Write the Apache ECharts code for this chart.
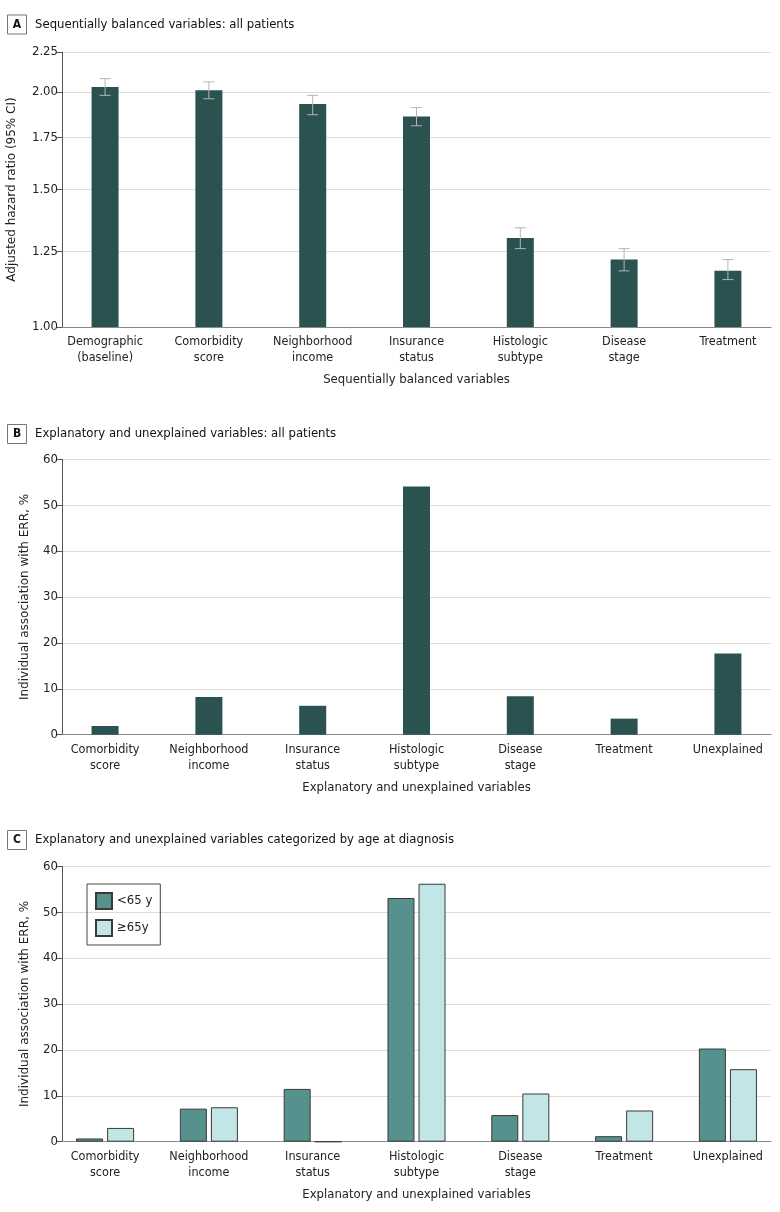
<!DOCTYPE html>
<html><head><meta charset="utf-8">
<script src="https://cdn.jsdelivr.net/npm/echarts@6/dist/echarts.min.js"></script>
<style>html,body{margin:0;padding:0;background:#fff}#c{width:780px;height:1212px}</style>
</head><body><div id="c"></div>
<script>
// ---- data ----
const catsA = ['Demographic\n(baseline)','Comorbidity\nscore','Neighborhood\nincome','Insurance\nstatus','Histologic\nsubtype','Disease\nstage','Treatment'];
const hrA = [2.03, 2.01, 1.93, 1.86, 1.30, 1.22, 1.18];
const hrLow = [1.98, 1.96, 1.87, 1.81, 1.26, 1.18, 1.15];
const hrHigh = [2.08, 2.06, 1.98, 1.91, 1.34, 1.26, 1.22];
const ticksA = [1.00, 1.25, 1.50, 1.75, 2.00, 2.25];
const catsBC = ['Comorbidity\nscore','Neighborhood\nincome','Insurance\nstatus','Histologic\nsubtype','Disease\nstage','Treatment','Unexplained'];
const errAll = [1.9, 8.2, 6.3, 54.1, 8.4, 3.5, 17.7];
const errUnder65 = [0.7, 7.2, 11.5, 53.1, 5.8, 1.2, 20.3];
const errOver65 = [3.0, 7.5, 0, 56.2, 10.5, 6.8, 15.8];
const ticksBC = [0, 10, 20, 30, 40, 50, 60];
const legendNames = ['<65 y', '≥65y'];

// ---- styles ----
const NARROW = "'Liberation Sans Narrow','DejaVu Sans Condensed',sans-serif";
const WIDE = "'DejaVu Sans',Verdana,sans-serif";
const TXT = '#222';

function xAx(gi, cats, name) {
  return {
    type: 'value', gridIndex: gi, min: -0.415, max: 6.415,
    name: name, nameLocation: 'middle', nameGap: 46,
    nameTextStyle: {fontFamily: NARROW, fontSize: 13, color: TXT},
    axisLine: {show: true, onZero: false, lineStyle: {color: '#8a8a8a', width: 1}},
    axisTick: {show: false}, splitLine: {show: false},
    axisLabel: {customValues: cats.map((c, i) => i), formatter: v => cats[Math.round(v)],
      fontFamily: NARROW, fontSize: 12.5, lineHeight: 16, color: TXT, margin: 7}
  };
}
function yAx(gi, extra) {
  return Object.assign({
    gridIndex: gi, nameLocation: 'middle',
    nameTextStyle: {fontFamily: WIDE, fontSize: 12, color: TXT},
    axisLine: {show: true, onZero: false, lineStyle: {color: '#555', width: 1}},
    axisTick: {show: true, length: 5, lineStyle: {color: '#555'}},
    splitLine: {show: true, lineStyle: {color: '#dcdcdc', width: 1}},
  }, extra);
}
function panelTitle(letter, text, yc) {
  return [
    {type: 'rect', shape: {x: 7.5, y: yc - 9.5, width: 19, height: 19}, style: {fill: '#fff', stroke: '#777', lineWidth: 1}},
    {type: 'text', x: 17, y: yc, style: {text: letter, font: "bold 12px " + NARROW, fill: '#111', align: 'center', verticalAlign: 'middle'}},
    {type: 'text', x: 35, y: yc, style: {text: text, font: "13px " + NARROW, fill: '#111', align: 'left', verticalAlign: 'middle'}}
  ];
}

const chart = echarts.init(document.getElementById('c'), null, {renderer: 'canvas'});
chart.setOption({
  animation: false,
  backgroundColor: '#fff',
  graphic: [].concat(
    panelTitle('A', 'Sequentially balanced variables: all patients', 24.5),
    panelTitle('B', 'Explanatory and unexplained variables: all patients', 434),
    panelTitle('C', 'Explanatory and unexplained variables categorized by age at diagnosis', 840)
  ),
  grid: [
    {left: 62, right: 9, top: 52, height: 275, outerBoundsMode: 'none'},
    {left: 62, right: 9, top: 459.3, height: 275.4, outerBoundsMode: 'none'},
    {left: 62, right: 9, top: 866.3, height: 275.4, outerBoundsMode: 'none'}
  ],
  xAxis: [
    xAx(0, catsA, 'Sequentially balanced variables'),
    xAx(1, catsBC, 'Explanatory and unexplained variables'),
    xAx(2, catsBC, 'Explanatory and unexplained variables')
  ],
  yAxis: [
    yAx(0, {type: 'log', logBase: 10, min: 1, max: 2.25, name: 'Adjusted hazard ratio (95% CI)', nameGap: 44,
      axisTick: {show: true, length: 5, customValues: ticksA, lineStyle: {color: '#555'}},
      axisLabel: {customValues: ticksA, formatter: v => v.toFixed(2), fontFamily: NARROW, fontSize: 13, color: TXT, margin: 4}}),
    yAx(1, {type: 'value', min: 0, max: 60, interval: 10, name: 'Individual association with ERR, %', nameGap: 31,
      axisLabel: {formatter: v => String(v), fontFamily: NARROW, fontSize: 13, color: TXT, margin: 4}}),
    yAx(2, {type: 'value', min: 0, max: 60, interval: 10, name: 'Individual association with ERR, %', nameGap: 31,
      axisLabel: {formatter: v => String(v), fontFamily: NARROW, fontSize: 13, color: TXT, margin: 4}})
  ],
  legend: {
    data: legendNames, orient: 'vertical', left: 87, top: 884, icon: 'rect',
    itemWidth: 16, itemHeight: 16, itemGap: 9, padding: [8, 8, 8, 8],
    borderColor: '#444', borderWidth: 1, borderRadius: 0,
    textStyle: {fontFamily: NARROW, fontSize: 13, color: TXT}
  },
  series: [
    {type: 'bar', xAxisIndex: 0, yAxisIndex: 0, barWidth: 27,
      data: hrA.map((v, i) => [i, v]), itemStyle: {color: '#2a5250'}},
    {type: 'custom', xAxisIndex: 0, yAxisIndex: 0, z: 10,
      data: hrLow.map((l, i) => [i, l, hrHigh[i]]),
      encode: {x: 0, y: [1, 2]},
      renderItem: function (params, api) {
        const x = api.value(0);
        const lo = api.coord([x, api.value(1)]);
        const hi = api.coord([x, api.value(2)]);
        const w = 5.5;
        const st = {stroke: '#b5b5b5', lineWidth: 1};
        return {type: 'group', children: [
          {type: 'line', shape: {x1: lo[0], y1: lo[1], x2: hi[0], y2: hi[1]}, style: st},
          {type: 'line', shape: {x1: lo[0] - w, y1: lo[1], x2: lo[0] + w, y2: lo[1]}, style: st},
          {type: 'line', shape: {x1: hi[0] - w, y1: hi[1], x2: hi[0] + w, y2: hi[1]}, style: st}
        ]};
      }},
    {type: 'bar', xAxisIndex: 1, yAxisIndex: 1, barWidth: 27,
      data: errAll.map((v, i) => [i, v]), itemStyle: {color: '#2a5250'}},
    {type: 'bar', name: legendNames[0], xAxisIndex: 2, yAxisIndex: 2, barWidth: 27, barGap: '15%',
      data: errUnder65.map((v, i) => [i, v]), itemStyle: {color: '#57918e', borderColor: '#3a3a3a', borderWidth: 1}},
    {type: 'bar', name: legendNames[1], xAxisIndex: 2, yAxisIndex: 2, barWidth: 27, barGap: '15%',
      data: errOver65.map((v, i) => [i, v]), itemStyle: {color: '#c2e5e5', borderColor: '#3a3a3a', borderWidth: 1}}
  ]
});
</script></body></html>
